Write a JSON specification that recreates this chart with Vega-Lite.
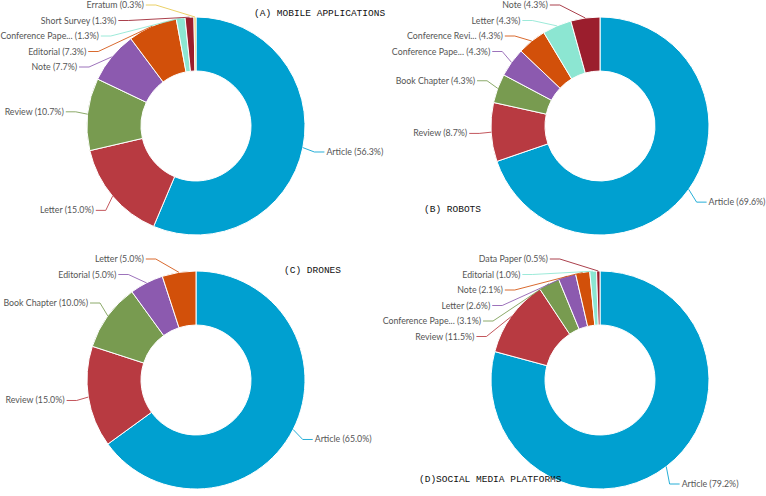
{
  "$schema": "https://vega.github.io/schema/vega-lite/v6.json",
  "padding": 0,
  "background": "white",
  "bounds": "flush",
  "data": {
    "values": [
      {"panel": "A", "name": "Article", "value": 56.3, "order": 1},
      {"panel": "A", "name": "Letter", "value": 15.0, "order": 2},
      {"panel": "A", "name": "Review", "value": 10.7, "order": 3},
      {"panel": "A", "name": "Note", "value": 7.7, "order": 4},
      {"panel": "A", "name": "Editorial", "value": 7.3, "order": 5},
      {"panel": "A", "name": "Conference Paper", "value": 1.3, "order": 6},
      {"panel": "A", "name": "Short Survey", "value": 1.3, "order": 7},
      {"panel": "A", "name": "Erratum", "value": 0.3, "order": 8},
      {"panel": "B", "name": "Article", "value": 69.6, "order": 1},
      {"panel": "B", "name": "Review", "value": 8.7, "order": 2},
      {"panel": "B", "name": "Book Chapter", "value": 4.3, "order": 3},
      {"panel": "B", "name": "Conference Paper", "value": 4.3, "order": 4},
      {"panel": "B", "name": "Conference Review", "value": 4.3, "order": 5},
      {"panel": "B", "name": "Letter", "value": 4.3, "order": 6},
      {"panel": "B", "name": "Note", "value": 4.3, "order": 7},
      {"panel": "C", "name": "Article", "value": 65.0, "order": 1},
      {"panel": "C", "name": "Review", "value": 15.0, "order": 2},
      {"panel": "C", "name": "Book Chapter", "value": 10.0, "order": 3},
      {"panel": "C", "name": "Editorial", "value": 5.0, "order": 4},
      {"panel": "C", "name": "Letter", "value": 5.0, "order": 5},
      {"panel": "D", "name": "Article", "value": 79.2, "order": 1},
      {"panel": "D", "name": "Review", "value": 11.5, "order": 2},
      {"panel": "D", "name": "Conference Paper", "value": 3.1, "order": 3},
      {"panel": "D", "name": "Letter", "value": 2.6, "order": 4},
      {"panel": "D", "name": "Note", "value": 2.1, "order": 5},
      {"panel": "D", "name": "Editorial", "value": 1.0, "order": 6},
      {"panel": "D", "name": "Data Paper", "value": 0.5, "order": 7}
    ]
  },
  "transform": [
    {"stack": "value", "groupby": ["panel"], "sort": [{"field": "order", "order": "ascending"}], "offset": "normalize", "as": ["s0", "s1"]},
    {"calculate": "(datum.s0+datum.s1)/2", "as": "mid"},
    {"calculate": "2*PI*datum.mid", "as": "ang"},
    {"calculate": "datum.mid>0.5?'L':'R'", "as": "side"},
    {"calculate": "max(-131*cos(datum.ang),-121)", "as": "ny"},
    {"calculate": "datum.side=='L'?-datum.mid:datum.mid", "as": "key"},
    {"window": [{"op": "row_number", "as": "idx"}], "groupby": ["panel", "side"], "sort": [{"field": "key", "order": "ascending"}]},
    {"calculate": "datum.ny-15.5*datum.idx", "as": "t"},
    {"window": [{"op": "max", "field": "t", "as": "cm"}], "groupby": ["panel", "side"], "sort": [{"field": "key", "order": "ascending"}], "frame": [null, 0]},
    {"calculate": "datum.cm+15.5*datum.idx", "as": "ly"},
    {"calculate": "(datum.side=='L'?-1:1)*sqrt(max(131*131-datum.ly*datum.ly,0))", "as": "lx"},
    {"calculate": "109*sin(datum.ang)", "as": "x0"},
    {"calculate": "-109*cos(datum.ang)", "as": "y0"},
    {"calculate": "datum.lx+(datum.side=='L'?10:-10)", "as": "x1"},
    {"calculate": "(length(datum.name)>15?substring(datum.name,0,15)+'...':datum.name)+' ('+format(datum.value,'.1f')+'%)'", "as": "label"}
  ],
  "facet": {"field": "panel", "type": "nominal", "title": null, "header": {"title": null, "labels": false, "labelExpr": "''", "labelFontSize": 0, "labelPadding": 0, "labelColor": "transparent"}},
  "columns": 2,
  "spacing": {"row": 12, "column": 46},
  "spec": {
    "width": 358,
    "height": 242,
    "layer": [
      {
        "mark": {"type": "arc", "innerRadius": 55, "outerRadius": 109, "stroke": "#ffffff", "strokeWidth": 1},
        "encoding": {
          "x": {"datum": 0, "type": "quantitative", "scale": {"domain": [-195, 163], "nice": false, "zero": false}, "axis": null},
          "y": {"datum": 0, "type": "quantitative", "scale": {"domain": [-126, 116], "reverse": true, "nice": false, "zero": false}, "axis": null},
          "theta": {"field": "s0", "type": "quantitative", "stack": null, "scale": {"domain": [0, 1]}},
          "theta2": {"field": "s1"},
          "color": {"field": "order", "type": "ordinal", "legend": null, "scale": {"domain": [1, 2, 3, 4, 5, 6, 7, 8], "range": ["#00a0d0", "#b83a41", "#789b50", "#8c5aaf", "#d2500a", "#8ce6d2", "#9b1e2d", "#e6c84b"]}}
        }
      },
      {
        "mark": {"type": "rule", "strokeWidth": 1, "opacity": 0.85},
        "encoding": {
          "x": {"field": "x0", "type": "quantitative", "scale": {"domain": [-195, 163], "nice": false, "zero": false}, "axis": null},
          "y": {"field": "y0", "type": "quantitative", "scale": {"domain": [-126, 116], "reverse": true, "nice": false, "zero": false}, "axis": null},
          "x2": {"field": "x1"},
          "y2": {"field": "ly"},
          "color": {"field": "order", "type": "ordinal", "legend": null, "scale": {"domain": [1, 2, 3, 4, 5, 6, 7, 8], "range": ["#00a0d0", "#b83a41", "#789b50", "#8c5aaf", "#d2500a", "#8ce6d2", "#9b1e2d", "#e6c84b"]}}
        }
      },
      {
        "mark": {"type": "rule", "strokeWidth": 1, "opacity": 0.85},
        "encoding": {
          "x": {"field": "x1", "type": "quantitative", "scale": {"domain": [-195, 163], "nice": false, "zero": false}, "axis": null},
          "y": {"field": "ly", "type": "quantitative", "scale": {"domain": [-126, 116], "reverse": true, "nice": false, "zero": false}, "axis": null},
          "x2": {"field": "lx"},
          "color": {"field": "order", "type": "ordinal", "legend": null, "scale": {"domain": [1, 2, 3, 4, 5, 6, 7, 8], "range": ["#00a0d0", "#b83a41", "#789b50", "#8c5aaf", "#d2500a", "#8ce6d2", "#9b1e2d", "#e6c84b"]}}
        }
      },
      {
        "transform": [{"filter": "datum.side=='L'"}],
        "mark": {"type": "text", "align": "right", "baseline": "middle", "dx": -2, "font": "Lato", "fontSize": 8.8, "color": "#555555"},
        "encoding": {
          "x": {"field": "lx", "type": "quantitative", "scale": {"domain": [-195, 163], "nice": false, "zero": false}, "axis": null},
          "y": {"field": "ly", "type": "quantitative", "scale": {"domain": [-126, 116], "reverse": true, "nice": false, "zero": false}, "axis": null},
          "text": {"field": "label", "type": "nominal"}
        }
      },
      {
        "transform": [{"filter": "datum.side=='R'"}],
        "mark": {"type": "text", "align": "left", "baseline": "middle", "dx": 2, "font": "Lato", "fontSize": 8.8, "color": "#555555"},
        "encoding": {
          "x": {"field": "lx", "type": "quantitative", "scale": {"domain": [-195, 163], "nice": false, "zero": false}, "axis": null},
          "y": {"field": "ly", "type": "quantitative", "scale": {"domain": [-126, 116], "reverse": true, "nice": false, "zero": false}, "axis": null},
          "text": {"field": "label", "type": "nominal"}
        }
      },
      {
        "transform": [{"filter": "datum.panel=='A' && datum.order==1"}],
        "mark": {"type": "text", "align": "left", "baseline": "middle", "font": "Liberation Mono", "fontSize": 9.5, "color": "#111111", "text": "(A) MOBILE APPLICATIONS"},
        "encoding": {
          "x": {"datum": 58, "type": "quantitative", "scale": {"domain": [-195, 163], "nice": false, "zero": false}, "axis": null},
          "y": {"datum": -113, "type": "quantitative", "scale": {"domain": [-126, 116], "reverse": true, "nice": false, "zero": false}, "axis": null}
        }
      },
      {
        "transform": [{"filter": "datum.panel=='B' && datum.order==1"}],
        "mark": {"type": "text", "align": "left", "baseline": "middle", "font": "Liberation Mono", "fontSize": 9.5, "color": "#111111", "text": "(B) ROBOTS"},
        "encoding": {
          "x": {"datum": -176, "type": "quantitative", "scale": {"domain": [-195, 163], "nice": false, "zero": false}, "axis": null},
          "y": {"datum": 83, "type": "quantitative", "scale": {"domain": [-126, 116], "reverse": true, "nice": false, "zero": false}, "axis": null}
        }
      },
      {
        "transform": [{"filter": "datum.panel=='C' && datum.order==1"}],
        "mark": {"type": "text", "align": "left", "baseline": "middle", "font": "Liberation Mono", "fontSize": 9.5, "color": "#111111", "text": "(C) DRONES"},
        "encoding": {
          "x": {"datum": 88, "type": "quantitative", "scale": {"domain": [-195, 163], "nice": false, "zero": false}, "axis": null},
          "y": {"datum": -110, "type": "quantitative", "scale": {"domain": [-126, 116], "reverse": true, "nice": false, "zero": false}, "axis": null}
        }
      },
      {
        "transform": [{"filter": "datum.panel=='D' && datum.order==1"}],
        "mark": {"type": "text", "align": "left", "baseline": "middle", "font": "Liberation Mono", "fontSize": 9.5, "color": "#111111", "text": "(D)SOCIAL MEDIA PLATFORMS"},
        "encoding": {
          "x": {"datum": -181, "type": "quantitative", "scale": {"domain": [-195, 163], "nice": false, "zero": false}, "axis": null},
          "y": {"datum": 99, "type": "quantitative", "scale": {"domain": [-126, 116], "reverse": true, "nice": false, "zero": false}, "axis": null}
        }
      }
    ]
  },
  "config": {
    "view": {"stroke": null},
    "header": {"labels": false, "title": null, "labelPadding": 0, "titlePadding": 0, "labelFontSize": 0},
    "headerFacet": {"labels": false, "title": null, "labelPadding": 0, "titlePadding": 0, "labelFontSize": 0}
  }
}
